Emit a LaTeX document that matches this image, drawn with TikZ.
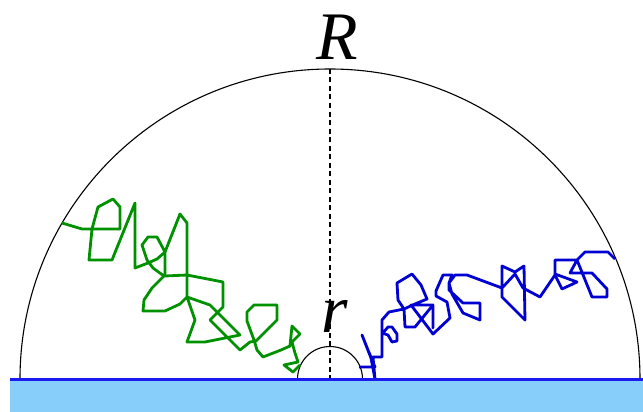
\documentclass[tikz,border=0pt]{standalone}
\usepackage{fontspec}
\setmainfont{Liberation Serif}
\definecolor{gw}{RGB}{0,145,0}
\definecolor{bw}{RGB}{0,0,210}
\definecolor{baseblue}{RGB}{25,25,240}
\definecolor{water}{RGB}{135,206,250}
\begin{document}
\begin{tikzpicture}[x=1pt,y=-1pt,
  gwalk/.style={draw=gw,line width=2.8pt,line join=round},
  bwalk/.style={draw=bw,line width=2.8pt,line join=round},
  circ/.style={draw=black,line width=1.1pt},
  lbl/.style={font=\fontsize{68}{68}\selectfont\itshape,inner sep=0pt}]
\useasboundingbox (0,0) rectangle (643,412);
\fill[water] (10,381) rectangle (643,412);
\coordinate (top) at (330,69);
\coordinate (foot) at (330,379);
\coordinate (bigR) at (640,379);
\coordinate (smallR) at (362.5,379);
\draw[circ] (bigR) arc[start angle=0,end angle=-180,radius=310];
\draw[circ] (smallR) arc[start angle=0,end angle=-180,radius=32.5];
\draw[line width=1.1pt,dash pattern=on 5pt off 3.5pt] (top) -- (foot);
\draw[gwalk] plot coordinates {(62,223) (82,229) (92,229) (120,229) (120,207) (113,199) (98,207) (92,229) (89,260) (112,260) (135,203) (135,268) (148,263) (157,259) (165,252) (157,237) (148,237) (142,245) (147,260) (153,268) (164,276) (152,288) (144,300) (143,311) (165,311) (180,304) (187,297) (210,305) (240,335) (205,342) (187,342) (195,320) (187,297) (187,223) (180,214) (165,252) (165,276) (187,275) (223,282) (223,307) (210,320) (240,350) (250,342) (256,341) (277,320) (277,305) (254,305) (247,312) (247,321) (254,340) (257,350) (263,357) (281,350) (290,346) (292,326) (300,334) (292,342) (295,353) (298,362) (284,365) (293,372) (300,365)};
\draw[bwalk] plot coordinates {(359,367) (375,367) (368,350) (362,335) (371,358) (375,379) (373,357) (382,357) (382,334) (388,327) (392,327) (397,334) (397,341) (392,342) (388,335) (382,333) (382,320) (389,312) (404,309) (398,300) (397,283) (412,274) (421,285) (427,299) (415,304) (404,309) (405,327) (415,327) (433,305) (433,328) (433,305) (411,305) (433,334) (450,318) (447,302) (436,296) (436,291) (443,275) (452,275) (449,283) (449,290) (463,303) (480,303) (480,320) (463,313) (452,294) (449,283) (455,275) (467,275) (502,288) (502,266) (515,272) (524,266) (525,320) (502,297) (502,288) (515,274) (523,288) (540,297) (555,275) (562,289) (577,282) (555,274) (555,260) (577,260) (570,273) (592,273) (607,289) (607,297) (592,297) (577,260) (585,252) (608,252) (615,259)};
\draw[draw=baseblue,line width=3pt] (10,379.5) -- (643,379.5);
\node[lbl,anchor=base] (Rlabel) at (337,60) {R};
\node[lbl,anchor=base] (rlabel) at (335,332) {r};
\end{tikzpicture}
\end{document}
